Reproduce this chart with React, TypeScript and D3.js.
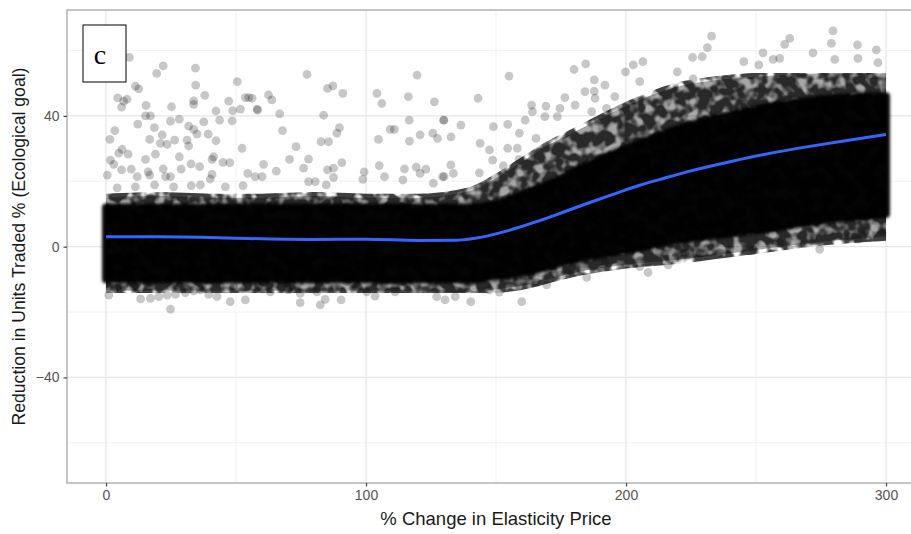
import React, { useRef, useEffect } from 'react';
import * as d3 from 'd3';

const W = 911;
const H = 534;

// axis setup (ggplot style, 5% expansion)
const xDomain = [-15, 315];
const yDomain = [-72.3, 72.4];
const xTicks = [0, 100, 200, 300];
const xMinor = [50, 150, 250];
const yTicks = [-40, 0, 40];
const yMinor = [-60, -20, 20, 60];

// envelope of the dense point cloud
const bandX = [0, 20, 40, 60, 80, 100, 120, 140, 150, 160, 170, 180, 200, 220, 250, 275, 300];
const haloHi = [15, 15.5, 15, 15, 15.5, 15, 15, 17, 21, 26, 31, 35, 43, 49, 52, 53, 53];
const coreHi = [12, 12, 12, 12, 12, 12, 12, 12, 13, 16, 19, 23, 30, 36, 42, 45, 46];
const coreLo = [-10, -10, -10, -10, -10, -10, -10, -10, -9, -8, -6, -4, -1, 2, 5, 8, 10];
const haloLo = [-13.5, -13.5, -13.5, -13.5, -13.5, -13.5, -13.5, -14, -13, -12, -10, -8, -5.5, -4, -1, 1.5, 3];

// loess fit line
const smoothX = [0, 20, 40, 60, 80, 100, 120, 135, 145, 155, 165, 175, 185, 195, 205, 215, 225, 240, 255, 270, 285, 300];
const smoothY = [3.0, 3.0, 2.8, 2.4, 2.2, 2.3, 1.9, 2.0, 3.0, 5.0, 7.5, 10.3, 13.2, 16.0, 18.7, 21.0, 23.2, 26.0, 28.5, 30.6, 32.5, 34.3];

// scattered points outside the dense band
const pointsAbove: [number, number][] = [
  [9.0, 57.9], [22.0, 55.3], [19.5, 53.0], [34.4, 54.6], [50.5, 50.5], [34.5, 49.4], [11.3, 49.1], [12.6, 48.3],
  [38.0, 46.3], [4.5, 45.5], [6.8, 44.5], [8.1, 45.1], [6.0, 42.7], [33.7, 44.6], [33.7, 43.5], [47.2, 44.5],
  [53.6, 45.6], [54.9, 45.6], [58.1, 42.1], [51.7, 42.1], [48.7, 41.6], [42.3, 41.5], [15.4, 43.2], [25.2, 42.8],
  [12.2, 37.5], [15.2, 40.0], [17.1, 40.0], [24.8, 38.4], [28.2, 39.0], [37.6, 38.2], [43.7, 38.7], [48.5, 38.5],
  [3.4, 35.5], [1.5, 32.8], [18.6, 36.4], [31.8, 36.9], [33.7, 35.9], [16.8, 32.8], [21.6, 34.2], [20.9, 31.6],
  [23.5, 31.3], [26.4, 32.6], [31.2, 32.6], [31.8, 30.8], [35.0, 34.4], [39.3, 34.4], [42.3, 32.4], [52.3, 30.1],
  [6.2, 29.8], [4.9, 28.6], [8.5, 28.3], [19.0, 28.3], [1.7, 26.5], [3.0, 25.2], [15.2, 26.7], [28.2, 27.5],
  [41.4, 27.5], [40.8, 26.7], [45.0, 25.8], [47.6, 25.7], [32.7, 25.3], [36.0, 24.5], [6.0, 23.5], [9.7, 23.7],
  [16.2, 22.9], [16.8, 21.9], [22.0, 23.8], [22.9, 21.4], [24.8, 21.4], [28.9, 23.7], [0.5, 21.9], [12.0, 21.4],
  [40.8, 22.1], [40.1, 20.7], [54.5, 22.4], [57.4, 21.4], [4.3, 18.0], [11.3, 18.3], [18.7, 18.9], [26.0, 18.3],
  [32.8, 18.7], [36.3, 18.9], [45.9, 18.3], [52.7, 18.7],
  [77.3, 52.7], [85.2, 48.4], [87.3, 49.2], [91.1, 46.9], [56.2, 45.4], [62.5, 46.4], [63.8, 44.9], [58.3, 41.8],
  [66.8, 40.6], [83.7, 40.2], [67.9, 35.5], [89.8, 36.4], [88.8, 34.7], [82.7, 32.1], [85.6, 32.1], [73.1, 30.6],
  [70.6, 26.7], [77.9, 26.8], [76.0, 24.0], [60.6, 25.2], [65.5, 23.1], [60.0, 21.4], [85.2, 23.5], [87.5, 24.0],
  [90.7, 25.7], [87.5, 21.2], [77.9, 19.9], [80.5, 19.9], [84.7, 18.9], [104.2, 46.9], [106.1, 43.8], [119.6, 52.5],
  [116.3, 45.9], [126.3, 44.3], [116.6, 38.7], [129.8, 38.7], [109.3, 35.9], [110.9, 35.9], [104.8, 32.8], [116.7, 32.3],
  [120.8, 34.2], [125.7, 34.7], [127.5, 33.1], [99.3, 22.9], [98.8, 20.6], [105.1, 24.8], [107.1, 21.4], [114.8, 23.8],
  [119.3, 24.3], [120.8, 22.4], [123.0, 23.7], [114.2, 20.4], [125.9, 19.4], [129.5, 21.4],
  [155.0, 52.2], [143.1, 45.4], [180.0, 54.2], [184.5, 55.9], [206.5, 56.6], [202.8, 55.6], [199.8, 53.5], [187.8, 51.0],
  [191.9, 49.4], [184.2, 47.4], [187.8, 47.6], [188.1, 45.4], [195.7, 45.9], [205.3, 50.5], [130.0, 38.7], [136.5, 37.2],
  [132.7, 33.6], [149.0, 36.7], [154.5, 37.4], [161.2, 38.7], [163.7, 43.3], [169.2, 43.0], [164.0, 41.3], [168.8, 39.8],
  [174.6, 42.3], [176.5, 45.6], [180.4, 43.3], [173.6, 39.8], [159.0, 34.7], [143.9, 31.6], [147.5, 29.6], [148.7, 26.5],
  [154.5, 30.1], [158.2, 30.1], [152.8, 24.7], [158.9, 26.7], [165.4, 33.1], [132.6, 25.0], [133.6, 22.4], [130.0, 21.4],
  [143.6, 22.6], [186.8, 41.3], [192.5, 42.3],
  [232.9, 64.4], [231.3, 60.9], [229.3, 58.1], [225.6, 57.9], [219.7, 53.5], [225.8, 51.3], [279.6, 66.0], [263.0, 63.7],
  [261.0, 61.9], [279.0, 62.2], [289.0, 61.7], [296.3, 60.2], [280.3, 57.3], [271.9, 59.3], [252.7, 59.3], [256.6, 57.3],
  [245.3, 56.6], [251.1, 55.6], [259.1, 57.6], [296.9, 56.3], [289.2, 57.6],
];

const pointsBelow: [number, number][] = [
  [24.8, -19.1], [13.3, -16.0], [17.1, -15.8], [20.3, -15.3], [23.5, -14.8], [26.7, -14.6], [30.5, -14.1], [33.7, -13.5],
  [36.3, -13.2], [39.5, -14.6], [42.7, -15.3], [47.8, -16.8], [53.6, -16.3], [1.1, -14.8], [3.6, -12.7], [6.8, -12.2],
  [10.7, -12.4], [15.8, -11.2], [74.7, -14.3], [74.7, -17.1], [82.4, -17.8], [84.3, -16.1], [90.4, -16.3], [81.1, -13.8],
  [70.2, -13.2], [63.2, -13.8], [95.2, -12.7], [100.3, -13.8], [103.5, -15.1], [111.2, -13.8], [127.2, -15.3], [130.4, -16.3],
  [49.1, -12.0], [58.7, -12.0], [69.6, -11.2], [92.7, -10.7], [119.6, -11.7],
  [140.3, -16.8], [159.9, -16.8], [151.3, -13.9], [147.4, -13.2], [134.3, -15.3], [169.5, -11.7], [165.7, -11.0], [184.9, -9.4],
  [177.8, -8.1], [208.5, -7.9], [205.3, -6.1], [216.2, -5.6], [191.9, -4.6], [174.6, -8.7],
  [248.9, -0.8], [274.5, -0.8], [289.2, 2.3], [291.8, 4.6], [298.2, 4.8], [286.0, 3.1], [222.6, -2.0], [228.4, -2.2],
  [236.1, -1.8], [239.9, -0.8], [218.8, -3.5], [259.1, 1.0],
];

const App = () => {
  const svgRef = useRef<SVGSVGElement>(null);

  useEffect(() => {
    const svg = d3.select(svgRef.current);
    svg.selectAll('*').remove();

    const left = 67, top = 10, bottom = 483, right = 925;
    const x = d3.scaleLinear().domain(xDomain).range([left, right]);
    const y = d3.scaleLinear().domain(yDomain).range([bottom, top]);

    const defs = svg.append('defs');
    defs.append('clipPath').attr('id', 'panel')
      .append('rect').attr('x', left).attr('y', top).attr('width', right - left).attr('height', bottom - top);

    // grainy texture so the dense band reads like overlapping dots
    const mottle = defs.append('filter').attr('id', 'mottle')
      .attr('x', 0).attr('y', 0).attr('width', 1).attr('height', 1);
    mottle.append('feTurbulence').attr('type', 'fractalNoise').attr('baseFrequency', 0.09)
      .attr('numOctaves', 2).attr('seed', 7).attr('result', 'noise');
    mottle.append('feColorMatrix').attr('in', 'noise').attr('type', 'matrix')
      .attr('values', '0 0 0 0 0  0 0 0 0 0  0 0 0 0 0  4 0 0 0 -1.2').attr('result', 'grain');
    mottle.append('feComposite').attr('in', 'SourceGraphic').attr('in2', 'grain').attr('operator', 'in');

    // soft edge for the solid core
    defs.append('filter').attr('id', 'soft')
      .append('feGaussianBlur').attr('stdDeviation', 1.6);

    const panel = svg.append('g');
    panel.append('rect')
      .attr('x', left).attr('y', top).attr('width', right - left).attr('height', bottom - top)
      .attr('fill', '#fff');

    // grid
    panel.selectAll('.gx-minor').data(xMinor).enter().append('line')
      .attr('x1', d => x(d)).attr('x2', d => x(d)).attr('y1', top).attr('y2', bottom)
      .attr('stroke', '#f2f2f2').attr('stroke-width', 1);
    panel.selectAll('.gy-minor').data(yMinor).enter().append('line')
      .attr('y1', d => y(d)).attr('y2', d => y(d)).attr('x1', left).attr('x2', right)
      .attr('stroke', '#f2f2f2').attr('stroke-width', 1);
    panel.selectAll('.gx').data(xTicks).enter().append('line')
      .attr('x1', d => x(d)).attr('x2', d => x(d)).attr('y1', top).attr('y2', bottom)
      .attr('stroke', '#e6e6e6').attr('stroke-width', 1.3);
    panel.selectAll('.gy').data(yTicks).enter().append('line')
      .attr('y1', d => y(d)).attr('y2', d => y(d)).attr('x1', left).attr('x2', right)
      .attr('stroke', '#e6e6e6').attr('stroke-width', 1.3);

    const plot = panel.append('g').attr('clip-path', 'url(#panel)');

    const band = bandX.map((bx, i) => ({ x: bx, hLo: haloLo[i], cLo: coreLo[i], cHi: coreHi[i], hHi: haloHi[i] }));

    const haloArea = d3.area<any>()
      .x(d => x(d.x)).y0(d => y(d.hLo)).y1(d => y(d.hHi))
      .curve(d3.curveMonotoneX);
    const coreArea = d3.area<any>()
      .x(d => x(d.x)).y0(d => y(d.cLo)).y1(d => y(d.cHi))
      .curve(d3.curveMonotoneX);

    plot.append('g').attr('opacity', 0.35)
      .append('path').datum(band).attr('d', haloArea)
      .attr('fill', '#000');
    plot.append('g').attr('opacity', 0.75).attr('filter', 'url(#mottle)')
      .append('path').datum(band).attr('d', haloArea)
      .attr('fill', '#000').attr('stroke', '#000').attr('stroke-width', 8).attr('stroke-linejoin', 'round');
    plot.append('g').attr('opacity', 0.97).attr('filter', 'url(#soft)')
      .append('path').datum(band).attr('d', coreArea)
      .attr('fill', '#000').attr('stroke', '#000').attr('stroke-width', 8).attr('stroke-linejoin', 'round');

    const pts = pointsAbove.concat(pointsBelow);
    plot.selectAll('circle.pt').data(pts).enter().append('circle')
      .attr('cx', d => x(d[0])).attr('cy', d => y(d[1])).attr('r', 4.4)
      .attr('fill', '#000').attr('fill-opacity', 0.22);

    const line = d3.line<number>()
      .x((d, i) => x(smoothX[i])).y(d => y(d))
      .curve(d3.curveMonotoneX);
    plot.append('path').datum(smoothY).attr('d', line)
      .attr('fill', 'none').attr('stroke', '#3366FF').attr('stroke-width', 3);

    // panel border
    panel.append('rect')
      .attr('x', left).attr('y', top).attr('width', right - left).attr('height', bottom - top)
      .attr('fill', 'none').attr('stroke', '#a6a6a6').attr('stroke-width', 1.3);

    // axes
    const font = '"Liberation Sans", Arial, sans-serif';
    const xAxis = svg.append('g').attr('transform', `translate(0,${bottom})`)
      .call(d3.axisBottom(x).tickValues(xTicks).tickSize(3.5).tickPadding(4));
    const yAxis = svg.append('g').attr('transform', `translate(${left},0)`)
      .call(d3.axisLeft(y).tickValues(yTicks).tickSize(3.5).tickPadding(4));
    [xAxis, yAxis].forEach(a => {
      a.select('.domain').remove();
      a.selectAll('line').attr('stroke', '#444').attr('stroke-width', 1.2);
      a.selectAll('text').attr('fill', '#555').style('font-size', '14px').style('font-family', font);
    });

    svg.append('text')
      .attr('x', 496).attr('y', 525)
      .attr('text-anchor', 'middle')
      .style('font-family', font).style('font-size', '18.5px').attr('fill', '#1a1a1a')
      .text('% Change in Elasticity Price');

    svg.append('text')
      .attr('transform', `translate(25,${(top + bottom) / 2}) rotate(-90)`)
      .attr('text-anchor', 'middle')
      .style('font-family', font).style('font-size', '17.6px').attr('fill', '#1a1a1a')
      .text('Reduction in Units Traded % (Ecological goal)');

    // panel label box
    svg.append('rect').attr('x', 83).attr('y', 25).attr('width', 43).attr('height', 57)
      .attr('fill', '#fff').attr('stroke', '#000').attr('stroke-width', 1);
    svg.append('text').attr('x', 100).attr('y', 64).attr('text-anchor', 'middle')
      .style('font-family', '"Liberation Serif", "Times New Roman", serif').style('font-size', '28px')
      .attr('fill', '#000').text('c');
  }, []);

  return (
    <svg ref={svgRef} width={W} height={H}
      style={{ position: 'absolute', left: 0, top: 0, display: 'block', background: '#fff' }} />
  );
};

export default App;
